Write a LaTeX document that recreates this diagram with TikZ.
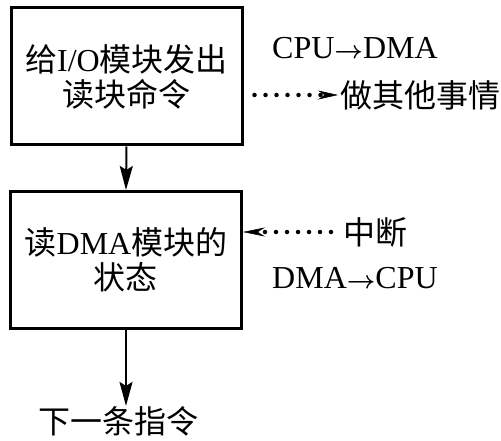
\documentclass[tikz,border=0pt]{standalone}
\usepackage{amsmath}
\usepackage{fontspec}
\setmainfont{Liberation Serif}
\newfontfamily\cjk{Noto Sans CJK SC}
\usetikzlibrary{arrows.meta}
\begin{document}
\begin{tikzpicture}[x=1pt, y=-1pt, >={Stealth[length=24pt,width=13pt,inset=4pt]},
  font=\fontsize{32}{35}\selectfont,
  khoi/.style={draw, line width=3pt, minimum width=231pt, minimum height=137pt, align=center, inner sep=0pt},
  cham/.style={line width=4.5pt, line cap=round, dash pattern=on 0pt off 11pt},
  nhan/.style={anchor=west, inner sep=0pt}]
\useasboundingbox (0,0) rectangle (501,441); % khung hình
% Hai khối chính
\node[khoi] (lenh) at (126.5,76.5) {{\cjk 给}I/O{\cjk 模块发出}\\{\cjk 读块命令}};
\node[khoi] (trangthai) at (126,260) {{\cjk 读}DMA{\cjk 模块的}\\{\cjk 状态}};
\node[inner sep=0pt] (tiep) at (118,421) {\cjk 下一条指令};
% Nhãn bên phải
\node[nhan] (cpudma) at (272,48) {CPU$\boldsymbol{\rightarrow}$DMA};
\node[nhan] (khac) at (340,95) {\cjk 做其他事情};
\node[nhan] (ngat) at (343,232) {\cjk 中断};
\node[nhan] (dmacpu) at (272,278) {DMA$\boldsymbol{\rightarrow}$CPU};
% Mũi tên liền
\draw[->, line width=2pt] (lenh.south) -- (trangthai.north);
\draw[->, line width=2pt] (trangthai.south) -- (trangthai.south |- tiep.north);
% Mũi tên chấm
\draw[cham, shorten <=11pt, -{Stealth[length=20pt,width=9pt,line width=0.5pt]}] (lenh.east |- khac.west) -- ([xshift=-2pt]khac.west);
\draw[cham, shorten <=12pt, -{Stealth[length=22pt,width=9pt,line width=0.5pt]}] (ngat.west) -- (trangthai.east |- ngat.west);
\end{tikzpicture}
\end{document}
